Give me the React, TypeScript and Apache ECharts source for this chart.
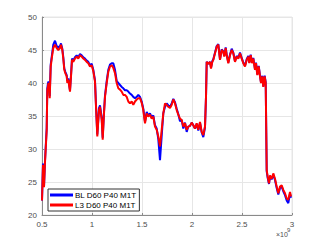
import React, { useEffect, useRef } from "react";
import * as echarts from "echarts";

// frequency in units of 1e9 Hz
const freqE9 = [
  0.5, 0.51, 0.515, 0.52, 0.53, 0.547, 0.553, 0.56, 0.565, 0.57, 0.577, 0.587, 0.6, 0.613, 0.63, 0.647, 0.663, 0.68, 0.69, 0.703,
  0.713, 0.723, 0.733, 0.747, 0.753, 0.763, 0.773, 0.78, 0.79, 0.8, 0.813, 0.83, 0.847, 0.863, 0.88, 0.897, 0.913, 0.93, 0.947, 0.963,
  0.98, 0.997, 1.013, 1.03, 1.04, 1.053, 1.07, 1.08, 1.097, 1.107, 1.12, 1.13, 1.147, 1.163, 1.18, 1.197, 1.213, 1.23, 1.247, 1.263,
  1.28, 1.297, 1.313, 1.33, 1.347, 1.363, 1.38, 1.397, 1.413, 1.43, 1.447, 1.463, 1.48, 1.497, 1.513, 1.53, 1.547, 1.563, 1.58, 1.597,
  1.613, 1.63, 1.647, 1.663, 1.68, 1.697, 1.713, 1.73, 1.747, 1.763, 1.78, 1.797, 1.813, 1.83, 1.847, 1.863, 1.88, 1.897, 1.913, 1.93,
  1.947, 1.963, 1.98, 1.997, 2.013, 2.03, 2.047, 2.063, 2.08, 2.097, 2.113, 2.13, 2.14, 2.147, 2.163, 2.18, 2.19, 2.203, 2.213, 2.23,
  2.247, 2.263, 2.28, 2.297, 2.313, 2.323, 2.337, 2.347, 2.363, 2.38, 2.397, 2.413, 2.43, 2.447, 2.463, 2.48, 2.497, 2.513, 2.53, 2.547,
  2.563, 2.573, 2.587, 2.6, 2.613, 2.63, 2.64, 2.653, 2.667, 2.68, 2.69, 2.703, 2.713, 2.727, 2.737, 2.747, 2.757, 2.77, 2.78, 2.797,
  2.813, 2.83, 2.847, 2.863, 2.88, 2.897, 2.913, 2.93, 2.947, 2.963, 2.98, 2.99,
];

const blValues = [
  22.2, 27.8, 27.4, 24.3, 28.2, 33.2, 39.2, 40.0, 40.2, 40.0, 38.0, 42.8, 44.3, 45.8, 46.4, 45.6, 45.4, 45.6, 46.0, 45.2,
  43.9, 42.2, 41.7, 41.2, 40.3, 40.7, 39.6, 38.9, 41.2, 43.7, 43.4, 43.9, 44.2, 43.9, 44.4, 44.2, 43.9, 43.7, 43.4, 43.2,
  42.7, 42.9, 42.0, 40.4, 36.6, 32.2, 36.2, 36.6, 34.7, 31.7, 35.6, 38.1, 40.3, 42.0, 42.8, 43.0, 43.0, 42.0, 40.3, 40.0,
  39.7, 39.4, 39.2, 38.9, 38.9, 38.7, 38.4, 38.2, 37.9, 37.7, 37.9, 38.2, 37.9, 37.2, 36.1, 34.1, 35.6, 35.1, 35.4, 34.8,
  35.1, 33.6, 33.1, 31.5, 28.3, 32.0, 35.4, 36.4, 36.9, 36.6, 36.4, 36.9, 37.6, 37.1, 36.1, 35.3, 34.2, 34.4, 33.1, 34.0,
  32.6, 33.4, 33.5, 34.0, 33.6, 33.1, 33.8, 32.8, 34.0, 32.5, 31.8, 33.3, 37.9, 43.2, 42.9, 43.2, 42.3, 43.3, 43.6, 44.6,
  45.6, 45.9, 43.6, 45.1, 44.8, 44.1, 45.4, 44.3, 43.1, 44.3, 45.2, 44.6, 43.3, 44.1, 43.8, 44.6, 43.8, 43.1, 42.6, 43.6,
  44.1, 43.1, 44.3, 43.1, 43.8, 42.1, 43.1, 41.3, 42.6, 41.1, 40.1, 41.1, 39.5, 41.1, 40.1, 26.6, 25.6, 24.7, 25.9, 25.4,
  26.1, 25.3, 24.1, 23.1, 24.1, 24.3, 23.6, 23.0, 22.2, 21.8, 23.2, 22.6,
];

const l3Values = [
  22.2, 27.6, 27.3, 24.2, 28.0, 32.9, 38.9, 39.5, 40.0, 39.8, 37.7, 42.5, 44.0, 45.3, 45.8, 45.3, 45.0, 45.3, 45.8, 45.0,
  43.7, 42.0, 41.5, 41.0, 40.0, 40.5, 39.4, 38.7, 41.0, 43.5, 43.2, 43.7, 44.0, 43.7, 44.2, 44.0, 43.7, 43.5, 43.2, 43.0,
  42.5, 42.7, 41.8, 40.2, 36.4, 31.9, 35.9, 36.4, 34.4, 31.4, 35.4, 37.9, 40.0, 41.7, 42.5, 42.7, 42.3, 41.5, 40.0, 39.2,
  39.0, 38.7, 38.2, 38.2, 37.9, 37.2, 36.9, 37.2, 36.7, 37.2, 37.5, 37.7, 37.7, 37.0, 35.9, 33.9, 35.4, 34.9, 35.2, 34.6,
  34.9, 33.4, 32.9, 31.9, 30.4, 32.9, 35.4, 36.9, 36.7, 36.4, 36.2, 36.7, 37.5, 36.9, 35.9, 35.2, 34.6, 34.4, 33.4, 33.9,
  32.9, 33.4, 33.5, 34.0, 33.6, 33.1, 33.9, 32.9, 34.1, 32.6, 32.1, 33.4, 37.9, 43.2, 42.9, 43.2, 42.2, 43.2, 43.5, 44.5,
  45.5, 45.8, 43.5, 45.0, 44.7, 44.0, 45.3, 44.2, 43.0, 44.2, 45.0, 44.5, 43.2, 44.0, 43.7, 44.5, 43.7, 43.0, 42.5, 43.5,
  44.0, 43.0, 44.2, 43.0, 43.7, 42.0, 43.0, 41.2, 42.5, 41.0, 40.0, 41.0, 39.4, 41.0, 40.0, 26.8, 25.8, 24.8, 26.0, 25.5,
  26.3, 25.5, 24.3, 23.3, 24.3, 24.5, 23.8, 23.3, 22.5, 22.3, 23.5, 22.8,
];

const seriesNames = ["BL D60 P40 M1T", "L3 D60 P40 M1T"];
const xTicks = [0.5, 1, 1.5, 2, 2.5, 3];

export default function App() {
  const ref = useRef<HTMLDivElement>(null);
  useEffect(() => {
    if (!ref.current) return;
    const chart = echarts.init(ref.current, undefined, { renderer: "svg" });
    const font = "'Liberation Sans', Arial, sans-serif";
    const toPairs = (vals: number[]) => freqE9.map((f, i) => [f * 1e9, vals[i]]);
    chart.setOption({
      animation: false,
      backgroundColor: "#ffffff",
      grid: { left: 42, right: 31, top: 17, bottom: 27, show: true, borderColor: "#e6e6e6", borderWidth: 1 },
      xAxis: {
        type: "value",
        min: 0.5e9,
        max: 3e9,
        interval: 0.5e9,
        axisLine: { show: true, onZero: false, lineStyle: { color: "#8a8a8a", width: 1 } },
        axisTick: { show: true, inside: true, length: 2, lineStyle: { color: "#8a8a8a" } },
        axisLabel: {
          color: "#4d4d4d",
          fontSize: 8,
          fontFamily: font,
          margin: 5,
          formatter: (v: number) => {
            const g = v / 1e9;
            return xTicks.includes(g) ? String(g) : "";
          },
        },
        splitLine: { show: true, lineStyle: { color: "#e6e6e6", width: 1 } },
      },
      yAxis: {
        type: "value",
        min: 20,
        max: 50,
        interval: 5,
        axisLine: { show: true, onZero: false, lineStyle: { color: "#8a8a8a", width: 1 } },
        axisTick: { show: true, inside: true, length: 2, lineStyle: { color: "#8a8a8a" } },
        axisLabel: { color: "#4d4d4d", fontSize: 8, fontFamily: font, margin: 5 },
        splitLine: { show: true, lineStyle: { color: "#e6e6e6", width: 1 } },
      },
      legend: {
        show: true,
        orient: "vertical",
        left: 48,
        top: 189,
        itemWidth: 23,
        itemHeight: 3,
        itemGap: 2,
        padding: [2, 3, 2, 2],
        backgroundColor: "#ffffff",
        borderColor: "#333333",
        borderWidth: 1,
        borderRadius: 0,
        icon: "rect",
        textStyle: { fontSize: 8, fontFamily: font, color: "#000000", padding: [0, 0, 0, -3] },
        data: seriesNames,
      },
      graphic: [
        {
          type: "text",
          left: 276,
          top: 231,
          style: { text: "×10", fontSize: 7, fontFamily: font, fill: "#4d4d4d" },
        },
        {
          type: "text",
          left: 287,
          top: 227,
          style: { text: "9", fontSize: 6, fontFamily: font, fill: "#4d4d4d" },
        },
      ],
      series: [
        {
          name: seriesNames[0],
          type: "line",
          data: toPairs(blValues),
          showSymbol: false,
          symbol: "none",
          lineStyle: { color: "#0000ff", width: 2 },
          itemStyle: { color: "#0000ff" },
        },
        {
          name: seriesNames[1],
          type: "line",
          data: toPairs(l3Values),
          showSymbol: false,
          symbol: "none",
          lineStyle: { color: "#ff0000", width: 2 },
          itemStyle: { color: "#ff0000" },
        },
      ],
    });
    return () => chart.dispose();
  }, []);
  return <div ref={ref} style={{ position: "fixed", left: 0, top: 0, width: 323, height: 242 }} />;
}
